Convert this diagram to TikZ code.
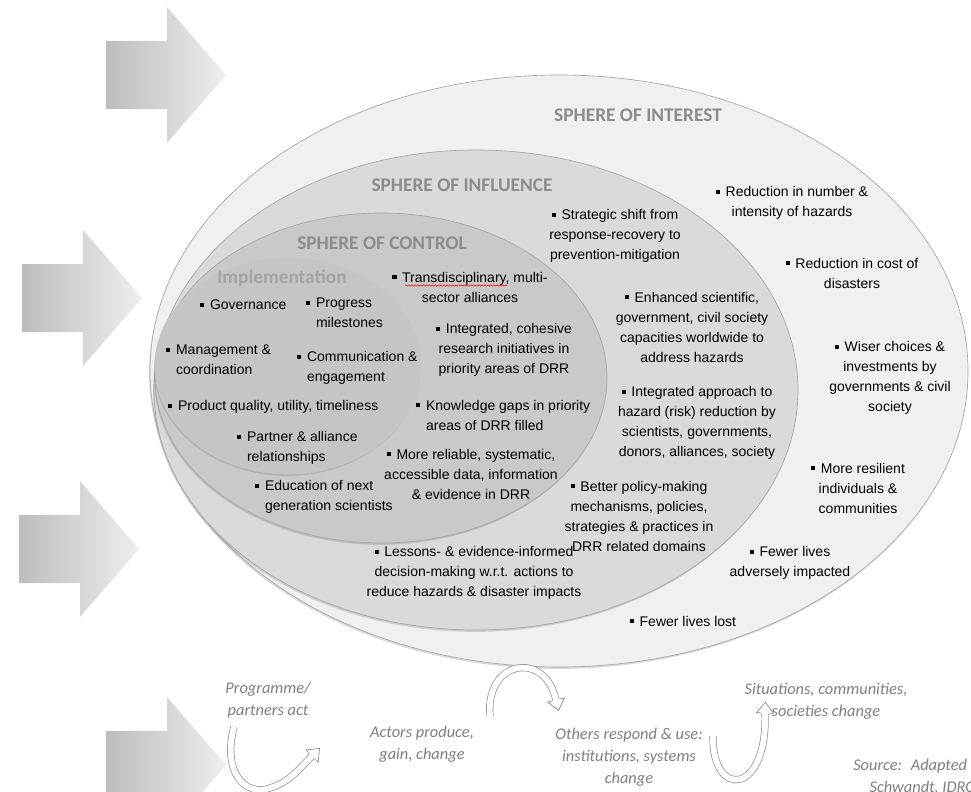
\documentclass[tikz,border=0pt]{standalone}
\usepackage{fontspec}
\setmainfont{Liberation Sans}
\newfontfamily\headfont{Carlito}
\usetikzlibrary{shadows}
\usetikzlibrary{decorations.pathmorphing}

\definecolor{interestfill}{HTML}{F0F0F0}
\definecolor{influencefill}{HTML}{DADADA}
\definecolor{controlfill}{HTML}{C9C9C9}
\definecolor{implfill}{HTML}{C5C5C5}
\definecolor{edgegray}{HTML}{A5A5A5}
\definecolor{headgray}{HTML}{8C8C8C}
\definecolor{implgray}{HTML}{A3A3A3}
\definecolor{notegray}{HTML}{7F7F7F}
\definecolor{loopgray}{HTML}{8A8A8A}
\definecolor{arrowdark}{HTML}{BDBDBD}
\definecolor{arrowlight}{HTML}{EEEEEE}

\newcommand\sqb{\rule[.2em]{.3em}{.3em}\hspace{.4em}}

\tikzset{
  sphere/.style={draw=edgegray,line width=.5pt,drop shadow={shadow xshift=-.7pt,shadow yshift=-1.4pt,opacity=.3}},
  spheretitle/.style={font=\headfont\bfseries\fontsize{14.5}{16}\selectfont,text=headgray,inner sep=0pt},
  item/.style={font=\fontsize{10.5}{15}\selectfont,align=center,inner sep=0pt},
  itemleft/.style={item,align=left,anchor=west},
  note/.style={font=\headfont\itshape\fontsize{12.3}{16.5}\selectfont,text=notegray,align=center,inner sep=0pt},
  bigarrow/.style={left color=arrowdark,right color=arrowlight},
  looparrow/.style={draw=white,line width=4.4pt,preaction={draw=loopgray,line width=5.4pt}},
  loophead/.pic={
    \fill[white] (-.3pt,-6.5pt) -- (8pt,0) -- (-.3pt,6.5pt) -- cycle;
    \draw[loopgray,line width=.5pt,line join=miter] (0,-2.7pt) -- (0,-6.5pt) -- (8pt,0) -- (0,6.5pt) -- (0,2.7pt);}
}

\begin{document}
\begin{tikzpicture}[x=0.75pt,y=-0.75pt]
  \useasboundingbox (0,0) rectangle (971,792);
  \clip (0,0) rectangle (971,792);

  \foreach \ax/\ay in {106/75,22/298,19/549,106/765}
    \shade[bigarrow] (\ax,\ay-34) -- ++(61,0) -- ++(0,-34) -- ++(59,68) -- ++(-59,68) -- ++(0,-34) -- ++(-61,0) -- cycle;

  \draw[sphere,fill=interestfill] (559,371) ellipse [x radius=409,y radius=296];
  \draw[sphere,fill=influencefill] (476,390) ellipse [x radius=322,y radius=240];
  \draw[sphere,fill=controlfill] (381,378) ellipse [x radius=226,y radius=165];
  \draw[sphere,fill=implfill,draw=gray!45] (288,366) ellipse [x radius=133,y radius=108];

  \node[spheretitle] (interest) at (638,115) {SPHERE OF INTEREST};
  \node[spheretitle] (influence) at (462,185) {SPHERE OF INFLUENCE};
  \node[spheretitle] (control) at (382,243) {SPHERE OF CONTROL};
  \node[spheretitle,text=implgray] (impl) at (282,278) {Implementation};

  \node[itemleft] (gov) at (200,305) {\sqb Governance};
  \node[itemleft] (prog) at (306,313) {\sqb Progress\\\hspace*{.7em}milestones};
  \node[itemleft] (mgmt) at (166,360) {\sqb Management \&\\\hspace*{.7em}coordination};
  \node[itemleft] (comm) at (297,368) {\sqb Communication \&\\\hspace*{.7em}engagement};
  \node[itemleft] (prod) at (168,407) {\sqb Product quality, utility, timeliness};
  \node[itemleft] (partner) at (237,448) {\sqb Partner \& alliance\\\hspace*{.7em}relationships};

  \node[item] (trans) at (470,287) {\sqb Transdisciplinary, multi-\\sector alliances};
  \draw[red,line width=.4pt,decorate,decoration={snake,amplitude=.5pt,segment length=2.2pt}] (405,285.5) -- (507,285.5);
  \node[item] (integ) at (504,350) {\sqb Integrated, cohesive\\research initiatives in\\priority areas of DRR};
  \node[itemleft] (gaps) at (416,415) {\sqb Knowledge gaps in priority\\\hspace*{.7em}areas of DRR filled};
  \node[item] (data) at (471,474) {\sqb More reliable, systematic,\\accessible data, information\\\& evidence in DRR};
  \node[itemleft] (edu) at (255,497) {\sqb Education of next\\\hspace*{.7em}generation scientists};

  \node[item] (shift) at (615,236) {\sqb Strategic shift from\\response-recovery to\\prevention-mitigation};
  \node[item] (capac) at (692,327) {\sqb Enhanced scientific,\\government, civil society\\capacities worldwide to\\address hazards};
  \node[item] (approach) at (697,423) {\sqb Integrated approach to\\hazard (risk) reduction by\\scientists, governments,\\donors, alliances, society};
  \node[item] (policy) at (639,516) {\sqb Better policy-making\\mechanisms, policies,\\strategies \& practices in\\DRR related domains};
  \node[item] (lessons) at (474,573) {\sqb Lessons- \& evidence-informed\\decision-making w.r.t. actions to\\reduce hazards \& disaster impacts};

  \node[item] (hazards) at (792,203) {\sqb Reduction in number \&\\intensity of hazards};
  \node[item] (cost) at (852,273) {\sqb Reduction in cost of\\disasters};
  \node[item] (choices) at (890,378) {\sqb Wiser choices \&\\investments by\\governments \& civil\\society};
  \node[item] (resil) at (858,488) {\sqb More resilient\\individuals \&\\communities};
  \node[item] (impact) at (790,563) {\sqb Fewer lives\\adversely impacted};
  \node[item] (lost) at (683,621) {\sqb Fewer lives lost};

  \node[note] (act) at (268,700) {Programme/\\partners act};
  \node[note] (gain) at (422,744) {Actors produce,\\gain, change};
  \node[note] (respond) at (629,757) {Others respond \& use:\\institutions, systems\\change};
  \node[note] (change) at (826,701) {Situations, communities,\\societies change};
  \node[note,anchor=west,align=left] (source) at (853,777) {Source:~ Adapted from\\\hspace*{1em}Schwandt, IDRC};

  \coordinate (a0) at (234,727);
  \coordinate (a1) at (312,756);
  \coordinate (b0) at (490,716);
  \coordinate (b1) at (556,700);
  \coordinate (c0) at (713,736);
  \coordinate (c1) at (765,713);
  \draw[looparrow] (a0) .. controls (222,772) and (245,797) .. (270,788) .. controls (290,782) and (300,768) .. (a1);
  \draw[looparrow] (b0) .. controls (485,660) and (545,650) .. (b1);
  \draw[looparrow] (c0) .. controls (712,800) and (768,795) .. (c1);
  \pic[rotate=45] at (a1) {loophead};
  \pic[rotate=-76] at (b1) {loophead};
  \pic[rotate=88] at (c1) {loophead};
\end{tikzpicture}
\end{document}
